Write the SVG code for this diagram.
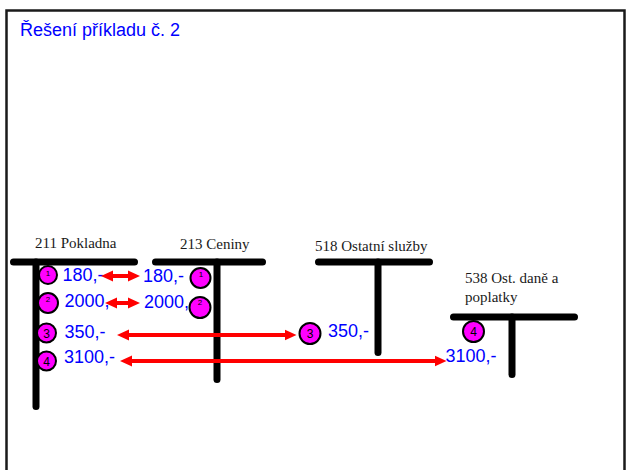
<svg xmlns="http://www.w3.org/2000/svg" width="626" height="470" viewBox="0 0 626 470">
<defs>
<style>
.frame{fill:#fff;stroke:#1a1a1a;stroke-width:2.5}
.title{font-family:"Liberation Sans",Arial,sans-serif;font-size:18px;fill:#0000ff}
.acct{font-family:"Liberation Serif","Times New Roman",serif;font-size:15px;fill:#1a1a1a}
.bar{stroke:#000;stroke-width:7;stroke-linecap:round;fill:none}
.amt{font-family:"Liberation Sans",Arial,sans-serif;font-size:18px;fill:#0000ff}
.dot{fill:#ff00ff;stroke:#000;stroke-width:2}
.num{font-family:"Liberation Sans",Arial,sans-serif;font-size:12px;fill:#000;text-anchor:middle}
.nums{font-family:"Liberation Sans",Arial,sans-serif;font-size:8px;fill:#000;text-anchor:middle}
.arr{stroke:#ff0000;stroke-width:4;fill:none;marker-start:url(#ah);marker-end:url(#ah)}
</style>
<marker id="ah" viewBox="0 0 12 12" refX="2" refY="6" markerWidth="12" markerHeight="12" markerUnits="userSpaceOnUse" orient="auto-start-reverse">
<path d="M0,0.5 L12,6 L0,11.5 z" fill="#ff0000"/>
</marker>
</defs>
<rect class="frame" x="6.5" y="10.5" width="618" height="480"/>
<text class="title" x="20" y="36">Řešení příkladu č. 2</text>

<g id="acct-211">
<text class="acct" x="35" y="248">211 Pokladna</text>
<line class="bar" x1="13.5" y1="262" x2="134.5" y2="262"/>
<line class="bar" x1="36" y1="262" x2="36" y2="406.5"/>
<circle class="dot" cx="48" cy="275" r="9"/>
<text class="nums" x="48" y="276">1</text>
<circle class="dot" cx="48" cy="303" r="10"/>
<text class="nums" x="48" y="302">2</text>
<circle class="dot" cx="46.5" cy="333" r="9.5"/>
<text class="num" x="46.5" y="337.5">3</text>
<circle class="dot" cx="46.5" cy="361" r="9.5"/>
<text class="num" x="46.5" y="365.5">4</text>
<text class="amt" x="62.5" y="281">180,-</text>
<text class="amt" x="64.5" y="307">2000,-</text>
<text class="amt" x="64.5" y="338">350,-</text>
<text class="amt" x="64" y="363">3100,-</text>
</g>

<g id="acct-213">
<text class="acct" x="180" y="249">213 Ceniny</text>
<line class="bar" x1="155.5" y1="262" x2="262.5" y2="262"/>
<line class="bar" x1="217" y1="262" x2="217" y2="379.5"/>
<text class="amt" x="143" y="282">180,-</text>
<text class="amt" x="144" y="308">2000,-</text>
<circle class="dot" cx="200.5" cy="278" r="10"/>
<text class="nums" x="201" y="277">1</text>
<circle class="dot" cx="200" cy="307.5" r="10.5"/>
<text class="nums" x="200" y="305">2</text>
</g>

<g id="acct-518">
<text class="acct" x="315" y="251">518 Ostatní služby</text>
<line class="bar" x1="318.5" y1="262" x2="429.5" y2="262"/>
<line class="bar" x1="378" y1="262" x2="378" y2="352.5"/>
<circle class="dot" cx="310" cy="333.5" r="10.5"/>
<text class="num" x="310" y="338">3</text>
<text class="amt" x="328" y="337">350,-</text>
</g>

<g id="acct-538">
<text class="acct" x="465" y="283">538 Ost. daně a</text>
<text class="acct" x="465" y="302">poplatky</text>
<line class="bar" x1="453.5" y1="317" x2="574.5" y2="317"/>
<line class="bar" x1="512" y1="317" x2="512" y2="374.5"/>
<circle class="dot" cx="473.5" cy="331.5" r="10.5"/>
<text class="num" x="473.5" y="336">4</text>
<text class="amt" x="445.5" y="362">3100,-</text>
</g>

<g id="connectors">
<line class="arr" x1="111" y1="276" x2="130" y2="276"/>
<line class="arr" x1="115" y1="303" x2="130" y2="303"/>
<line class="arr" x1="127" y1="335" x2="286.5" y2="335"/>
<line class="arr" x1="130" y1="361" x2="436.5" y2="361"/>
</g>
</svg>
